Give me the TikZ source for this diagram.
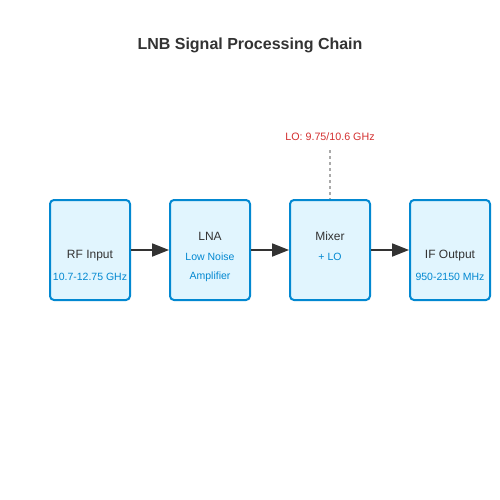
\documentclass[tikz,border=0pt]{standalone}
\usepackage{fontspec}
\setmainfont{Liberation Sans}
\usetikzlibrary{arrows.meta}
\definecolor{boxfill}{HTML}{E1F5FE}
\definecolor{boxline}{HTML}{0288D1}
\definecolor{darktext}{HTML}{333333}
\definecolor{lored}{HTML}{D32F2F}
\definecolor{dotgray}{HTML}{AAAAAA}
\tikzset{
  block/.style={draw=boxline, line width=2pt, fill=boxfill, rounded corners=4pt,
    minimum width=80pt, minimum height=100pt, inner sep=0pt},
  maintext/.style={font=\fontsize{12}{14}\selectfont, text=darktext, inner sep=0pt},
  subtext/.style={font=\fontsize{10.5}{12}\selectfont, text=boxline, inner sep=0pt},
  flow/.style={draw=darktext, line width=1.8pt, -{Triangle[length=17pt,width=13pt]}},
}
\begin{document}
\begin{tikzpicture}[x=1pt,y=-1pt]
\useasboundingbox (0,0) rectangle (500,500);
\node[font=\bfseries\fontsize{16}{19}\selectfont, text=darktext] (title) at (250,45.5) {LNB Signal Processing Chain};
\node[block] (rf) at (90,250) {};
\node[block] (lna) at (210,250) {};
\node[block] (mix) at (330,250) {};
\node[block] (if) at (450,250) {};
\node[maintext] (rft) at (90,256) {RF Input};
\node[subtext] (rfs) at (90,276.5) {10.7-12.75 GHz};
\node[maintext] (lnat) at (210,236) {LNA};
\node[subtext] (lnas1) at (210,256.5) {Low Noise};
\node[subtext] (lnas2) at (210,276.5) {Amplifier};
\node[maintext] (mixt) at (330,236) {Mixer};
\node[subtext] (mixs) at (330,256.5) {+ LO};
\node[maintext] (ift) at (450,256) {IF Output};
\node[subtext] (ifs) at (450,276.5) {950-2150 MHz};
\node[font=\fontsize{10.7}{12}\selectfont, text=lored, inner sep=0pt] (lo) at (330,136.5) {LO: 9.75/10.6 GHz};
\coordinate (lotop) at (330,150);
\draw[flow] (rf.east) -- (lna.west);
\draw[flow] (lna.east) -- (mix.west);
\draw[flow] (mix.east) -- (if.west);
\draw[draw=dotgray, line width=2pt, dash pattern=on 3pt off 3pt] (lotop) -- (mix.north);
\end{tikzpicture}
\end{document}
